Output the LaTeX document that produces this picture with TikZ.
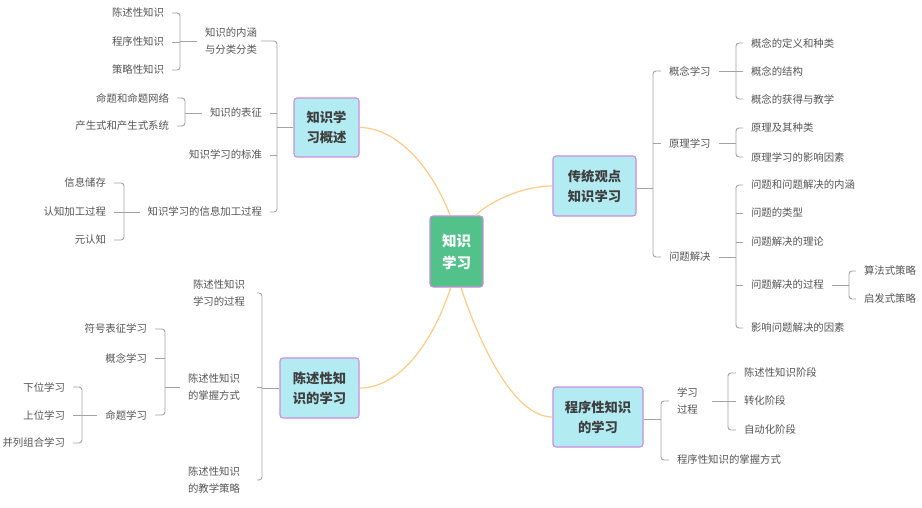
\documentclass[tikz,border=0pt]{standalone}
\usepackage{fontspec}
\setmainfont{Noto Sans CJK SC}
\definecolor{txt}{HTML}{555555}
\definecolor{boxtxt}{HTML}{3E3E3E}
\definecolor{brc}{HTML}{A3A3A3}
\definecolor{curvec}{HTML}{FFCB85}
\definecolor{boxfill}{HTML}{B3EBF2}
\definecolor{boxdraw}{HTML}{C98EDB}
\definecolor{rootfill}{HTML}{52C18A}
\begin{document}
\begin{tikzpicture}[x=1pt,y=-1pt,
  leaf/.style={text=txt,font=\fontsize{10.4}{17}\selectfont,inner xsep=4pt,outer xsep=4pt,inner ysep=1pt,outer ysep=0pt,align=center},
  leafL/.style={leaf,anchor=east},
  leafR/.style={leaf,anchor=west},
  topbox/.style={draw=boxdraw,fill=boxfill,line width=1.1pt,rounded corners=3pt,text=boxtxt,font=\fontsize{13.3}{20}\selectfont\bfseries,align=center,inner sep=0pt},
  rootbox/.style={draw=boxdraw,fill=rootfill,line width=1.1pt,rounded corners=3pt,text=white,font=\fontsize{14.5}{22}\selectfont\bfseries,align=center,inner sep=0pt,minimum width=53pt,minimum height=71pt},
  br/.style={draw=brc,line width=0.9pt},
  brr/.style={br,rounded corners=3pt},
  cv/.style={draw=curvec,line width=1.2pt}]
\useasboundingbox (0,0) rectangle (922,508);
\fill[white] (0,0) rectangle (922,508);

% root and main branches
\node[rootbox] (root) at (456.5,251.5) {知识\\学习};
\node[topbox,minimum width=65pt,minimum height=59pt] (A) at (326.5,127.5) {知识学\\习概述};
\node[topbox,minimum width=83pt,minimum height=60pt] (B) at (594.5,186) {传统观点\\知识学习};
\node[topbox,minimum width=79pt,minimum height=60pt] (C) at (319.5,388) {陈述性知\\识的学习};
\node[topbox,minimum width=90pt,minimum height=60pt] (D) at (598,417) {程序性知识\\的学习};

\draw[cv] (root.100) .. controls +(-20,-52) and +(35,0) .. (A.east);
\draw[cv] (root.62) .. controls +(10,-11) and +(-33,0) .. (B.west);
\draw[cv] (root.261) .. controls +(-20,60) and +(38,0) .. (C.east);
\draw[cv] (root.277) .. controls +(20,60) and +(-38,0) .. (D.west);

% ---------- A: 知识学习概述 ----------
\coordinate (bA) at (277,0);
\node[leafL] (A1) at (265,41) {知识的内涵\\与分类分类};
\node[leafL] (A2) at (270,113) {知识的表征};
\node[leafL] (A3) at (270,155) {知识学习的标准};
\node[leafL] (A4) at (270,212) {知识学习的信息加工过程};
\draw[br] (A.west) -- (A.west -| bA);
\draw[brr] ([xshift=-4pt]A1.east) -- (A1.east -| bA) -- (A4.east -| bA) -- (A4.east);
\draw[br] (A2.east) -- (A2.east -| bA);
\draw[br] (A3.east) -- (A3.east -| bA);

\coordinate (bA1) at (180,0);
\node[leafL] (A11) at (172,13) {陈述性知识};
\node[leafL] (A12) at (172,42) {程序性知识};
\node[leafL] (A13) at (172,70) {策略性知识};
\draw[br] (A1.west) -- (A1.west -| bA1);
\draw[brr] (A11.east) -- (A11.east -| bA1) -- (A13.east -| bA1) -- (A13.east);
\draw[br] (A12.east) -- (A12.east -| bA1);

\coordinate (bA2) at (185,0);
\node[leafL] (A21) at (177,98) {命题和命题网络};
\node[leafL] (A22) at (177,126) {产生式和产生式系统};
\draw[br] (A2.west) -- (A2.west -| bA2);
\draw[brr] (A21.east) -- (A21.east -| bA2) -- (A22.east -| bA2) -- (A22.east);

\coordinate (bA4) at (124,0);
\node[leafL] (A41) at (114,183) {信息储存};
\node[leafL] (A42) at (114,212) {认知加工过程};
\node[leafL] (A43) at (114,240) {元认知};
\draw[br] (A4.west) -- (A4.west -| bA4);
\draw[brr] (A41.east) -- (A41.east -| bA4) -- (A43.east -| bA4) -- (A43.east);
\draw[br] (A42.east) -- (A42.east -| bA4);

% ---------- C: 陈述性知识的学习 ----------
\coordinate (bC) at (262,0);
\node[leafL] (C1) at (253,293) {陈述性知识\\学习的过程};
\node[leafL] (C2) at (248,387) {陈述性知识\\的掌握方式};
\node[leafL] (C3) at (248,480) {陈述性知识\\的教学策略};
\draw[br] (C.west) -- (C.west -| bC);
\draw[brr] ([xshift=4pt]C1.east) -- (C1.east -| bC) -- (C3.east -| bC) -- ([xshift=9pt]C3.east);
\draw[br] ([xshift=9pt]C2.east) -- (C2.east -| bC);

\coordinate (bC2) at (165,0);
\node[leafL] (C21) at (155,329) {符号表征学习};
\node[leafL] (C22) at (155,358) {概念学习};
\node[leafL] (C23) at (155,415) {命题学习};
\draw[br] (C2.west) -- (C2.west -| bC2);
\draw[brr] (C21.east) -- (C21.east -| bC2) -- (C23.east -| bC2) -- (C23.east);
\draw[br] (C22.east) -- (C22.east -| bC2);

\coordinate (bC23) at (82,0);
\node[leafL] (C231) at (73,387) {下位学习};
\node[leafL] (C232) at (73,415) {上位学习};
\node[leafL] (C233) at (73,443) {并列组合学习};
\draw[br] (C23.west) -- (C23.west -| bC23);
\draw[brr] (C231.east) -- (C231.east -| bC23) -- (C233.east -| bC23) -- (C233.east);
\draw[br] (C232.east) -- (C232.east -| bC23);

% ---------- B: 传统观点知识学习 ----------
\coordinate (bB) at (653,0);
\node[leafR] (B1) at (661,71) {概念学习};
\node[leafR] (B2) at (661,143) {原理学习};
\node[leafR] (B3) at (661,257) {问题解决};
\draw[br] ([yshift=-2pt]B.east) -- ([yshift=-2pt]B.east -| bB);
\draw[brr] (B1.west) -- (B1.west -| bB) -- (B3.west -| bB) -- (B3.west);
\draw[br] (B2.west) -- (B2.west -| bB);

\coordinate (bB1) at (736,0);
\node[leafR] (B11) at (743,43) {概念的定义和种类};
\node[leafR] (B12) at (743,71) {概念的结构};
\node[leafR] (B13) at (743,99) {概念的获得与教学};
\draw[br] (B1.east) -- (B1.east -| bB1);
\draw[brr] (B11.west) -- (B11.west -| bB1) -- (B13.west -| bB1) -- (B13.west);
\draw[br] (B12.west) -- (B12.west -| bB1);

\node[leafR] (B21) at (743,128) {原理及其种类};
\node[leafR] (B22) at (743,157) {原理学习的影响因素};
\draw[br] (B2.east) -- (B2.east -| bB1);
\draw[brr] (B21.west) -- (B21.west -| bB1) -- (B22.west -| bB1) -- (B22.west);

\node[leafR] (B31) at (743,185) {问题和问题解决的内涵};
\node[leafR] (B32) at (743,213) {问题的类型};
\node[leafR] (B33) at (743,242) {问题解决的理论};
\node[leafR] (B34) at (743,285) {问题解决的过程};
\node[leafR] (B35) at (743,328) {影响问题解决的因素};
\draw[br] (B3.east) -- (B3.east -| bB1);
\draw[brr] (B31.west) -- (B31.west -| bB1) -- (B35.west -| bB1) -- (B35.west);
\draw[br] (B32.west) -- (B32.west -| bB1);
\draw[br] (B33.west) -- (B33.west -| bB1);
\draw[br] (B34.west) -- (B34.west -| bB1);

\coordinate (bB34) at (849,0);
\node[leafR] (B341) at (856,271) {算法式策略};
\node[leafR] (B342) at (856,299) {启发式策略};
\draw[br] (B34.east) -- (B34.east -| bB34);
\draw[brr] (B341.west) -- (B341.west -| bB34) -- (B342.west -| bB34) -- (B342.west);

% ---------- D: 程序性知识的学习 ----------
\coordinate (bD) at (661,0);
\node[leafR] (D1) at (669,401) {学习\\过程};
\node[leafR] (D2) at (669,460) {程序性知识的掌握方式};
\draw[br] ([yshift=-2pt]D.east) -- ([yshift=-2pt]D.east -| bD);
\draw[brr] (D1.west) -- (D1.west -| bD) -- (D2.west -| bD) -- (D2.west);

\coordinate (bD1) at (728,0);
\node[leafR] (D11) at (736,373) {陈述性知识阶段};
\node[leafR] (D12) at (736,401) {转化阶段};
\node[leafR] (D13) at (736,430) {自动化阶段};
\draw[br] ([xshift=6pt]D1.east) -- (D1.east -| bD1);
\draw[brr] (D11.west) -- (D11.west -| bD1) -- (D13.west -| bD1) -- (D13.west);
\draw[br] (D12.west) -- (D12.west -| bD1);
\end{tikzpicture}
\end{document}
